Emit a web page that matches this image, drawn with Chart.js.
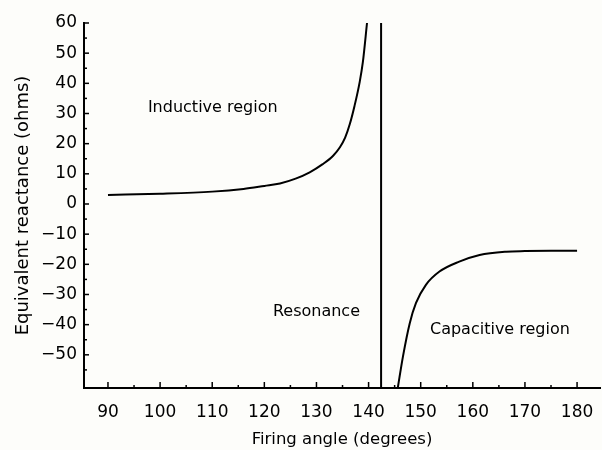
<!DOCTYPE html>
<html>
<head>
<meta charset="utf-8">
<script src="https://cdn.jsdelivr.net/npm/chart.js@4.4.0/dist/chart.umd.min.js"></script>
<style>
  html, body { margin: 0; padding: 0; background: #fdfdfa; }
  #wrap { width: 602px; height: 450px; }
</style>
</head>
<body>
<div id="wrap"><canvas id="c" width="602" height="450"></canvas></div>
<script>
// ---- data ----
const inductiveX = [90, 100, 110, 116, 120, 123, 126, 128.7, 131.2, 133.2, 134.5, 135.5, 136.4, 137.3, 138.3, 138.9, 139.7];
const inductiveY = [3, 3.4, 4.1, 5.0, 6.0, 6.8, 8.4, 10.5, 13.2, 16.0, 18.8, 22, 26.5, 32.5, 40.5, 47, 60];
const capacitiveX = [145.6, 146.6, 147.9, 149.1, 151, 153.6, 157.4, 161.3, 166.4, 170, 175, 180];
const capacitiveY = [-61, -50.5, -39.5, -32.8, -26.8, -22.4, -19.1, -16.9, -15.8, -15.6, -15.5, -15.5];
const resonanceX = [142.4, 142.4];
const resonanceY = [60, -61];
const xTicks = [90, 100, 110, 120, 130, 140, 150, 160, 170, 180];
const yTicks = [60, 50, 40, 30, 20, 10, 0, -10, -20, -30, -40, -50];
const xMinorTicks = [95, 105, 115, 125, 135, 145, 155, 165, 175];
const yMinorTicks = [55, 45, 35, 25, 15, 5, -5, -15, -25, -35, -45, -55];
const regionLabels = [
  { text: 'Inductive region', x: 110.1, y: 31.8 },
  { text: 'Resonance', x: 130.0, y: -35.8 },
  { text: 'Capacitive region', x: 165.2, y: -41.7 }
];

const toPts = (xs, ys) => xs.map((x, i) => ({ x: x, y: ys[i] }));
const FONT = '"DejaVu Sans", sans-serif';

const inwardTicks = {
  id: 'inwardTicks',
  afterDraw(chart) {
    const ctx = chart.ctx;
    const xs = chart.scales.x, ys = chart.scales.y;
    const area = chart.chartArea;
    ctx.save();
    ctx.strokeStyle = '#000';
    ctx.lineWidth = 1.5;
    const drawX = (vals, len) => vals.forEach(v => {
      const p = xs.getPixelForValue(v);
      ctx.beginPath(); ctx.moveTo(p, area.bottom); ctx.lineTo(p, area.bottom - len); ctx.stroke();
    });
    const drawY = (vals, len) => vals.forEach(v => {
      const p = ys.getPixelForValue(v);
      ctx.beginPath(); ctx.moveTo(area.left, p); ctx.lineTo(area.left + len, p); ctx.stroke();
    });
    drawX(xTicks, 6); drawX(xMinorTicks, 3);
    drawY(yTicks, 5); drawY(yMinorTicks, 3);
    ctx.fillStyle = '#000';
    ctx.font = '16px ' + FONT;
    ctx.textAlign = 'center';
    ctx.textBaseline = 'middle';
    regionLabels.forEach(l => {
      ctx.fillText(l.text, xs.getPixelForValue(l.x), ys.getPixelForValue(l.y));
    });
    ctx.restore();
  }
};

const lineStyle = { borderColor: '#000', borderWidth: 2, pointRadius: 0, fill: false };

new Chart(document.getElementById('c'), {
  type: 'line',
  data: {
    datasets: [
      Object.assign({ data: toPts(inductiveX, inductiveY), cubicInterpolationMode: 'monotone' }, lineStyle),
      Object.assign({ data: toPts(resonanceX, resonanceY) }, lineStyle),
      Object.assign({ data: toPts(capacitiveX, capacitiveY), cubicInterpolationMode: 'monotone' }, lineStyle)
    ]
  },
  options: {
    responsive: false,
    animation: false,
    layout: { padding: { top: 23, right: 2, left: 0, bottom: 0 } },
    plugins: { legend: { display: false }, tooltip: { enabled: false } },
    scales: {
      x: {
        type: 'linear',
        min: 85.4, max: 184.4,
        afterBuildTicks: s => { s.ticks = xTicks.map(v => ({ value: v })); },
        afterFit: s => { s.height = 62; s.paddingLeft = 0; s.paddingRight = 0; },
        grid: { display: false, drawTicks: false },
        border: { display: true, color: '#000', width: 2 },
        ticks: { color: '#000', font: { family: FONT, size: 17 }, padding: 14, maxRotation: 0, autoSkip: false },
        title: { display: true, text: 'Firing angle (degrees)', color: '#000', font: { family: FONT, size: 16.5 }, padding: { top: 1, bottom: 0 } }
      },
      y: {
        type: 'linear',
        min: -61, max: 60,
        afterBuildTicks: s => { s.ticks = yTicks.map(v => ({ value: v })); },
        afterFit: s => { s.width = 84; s.paddingTop = 0; s.paddingBottom = 0; },
        grid: { display: false, drawTicks: false },
        border: { display: true, color: '#000', width: 2 },
        ticks: {
          color: '#000', font: { family: FONT, size: 17 }, padding: 7, autoSkip: false,
          callback: v => String(v).replace('-', '\u2212')
        },
        title: { display: true, text: 'Equivalent reactance (ohms)', color: '#000', font: { family: FONT, size: 18 }, padding: { top: 13, bottom: 0 } }
      }
    }
  },
  plugins: [inwardTicks]
});
</script>
</body>
</html>
